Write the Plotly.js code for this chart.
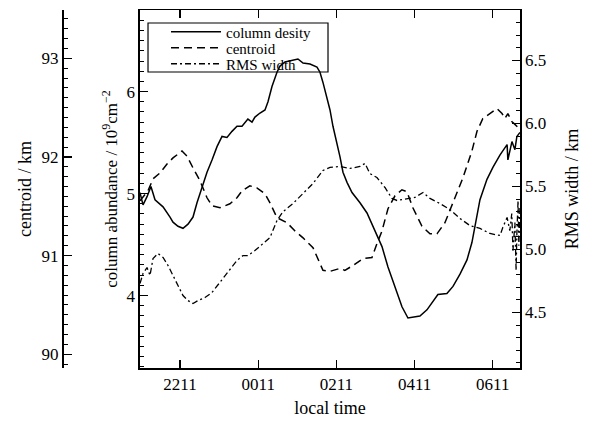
<!DOCTYPE html>
<html>
<head>
<meta charset="utf-8">
<script src="https://cdn.plot.ly/plotly-3.0.1.min.js"></script>
<style>html,body{margin:0;padding:0;background:#fff;}#chart{width:593px;height:428px;}</style>
</head>
<body>
<div id="chart"></div>
<script>
// time in decimal hours (values > 24 are after midnight)
const colTime = [21.16,21.237,21.34,21.44,21.544,21.749,21.928,22.004,22.132,22.26,22.388,22.516,22.618,22.746,22.874,23.002,23.13,23.258,23.385,23.513,23.641,23.769,23.846,23.92,24.025,24.10,24.23,24.357,24.434,24.536,24.664,24.741,24.869,25.073,25.2,25.33,25.508,25.687,25.764,25.84,25.943,26.02,26.096,26.199,26.276,26.352,26.455,26.583,26.787,26.966,27.12,27.247,27.35,27.503,27.682,27.861,28.014,28.142,28.32,28.5,28.654,28.78,29.01,29.166,29.345,29.524,29.65,29.73,29.856,30.035,30.19,30.37,30.55,30.57,30.674,30.75,30.80,30.88];
const colValue = [5.01,4.89,4.97,5.07,4.94,4.87,4.77,4.72,4.68,4.66,4.70,4.77,4.91,5.07,5.21,5.33,5.46,5.56,5.55,5.61,5.66,5.66,5.70,5.73,5.70,5.75,5.79,5.82,5.90,6.05,6.19,6.25,6.29,6.31,6.32,6.28,6.27,6.24,6.19,6.09,5.95,5.82,5.66,5.50,5.36,5.21,5.11,5.01,4.91,4.81,4.68,4.58,4.48,4.28,4.09,3.89,3.78,3.79,3.80,3.86,3.94,4.01,4.02,4.09,4.21,4.35,4.52,4.68,4.94,5.14,5.26,5.38,5.48,5.33,5.51,5.43,5.56,5.60];

const cenTime = [21.16,21.365,21.493,21.672,21.851,22.004,22.234,22.36,22.516,22.695,22.874,23.002,23.206,23.46,23.64,23.77,23.97,24.15,24.357,24.485,24.664,24.92,25.125,25.33,25.585,25.71,25.84,26.02,26.276,26.40,26.61,26.864,27.094,27.22,27.35,27.503,27.682,27.86,27.99,28.14,28.37,28.577,28.756,28.96,29.166,29.42,29.65,29.78,29.93,30.11,30.29,30.42,30.495,30.57,30.67,30.75,30.88];
const cenValue = [91.556,91.657,91.778,91.838,91.929,91.99,92.06,92.01,91.889,91.758,91.586,91.505,91.485,91.525,91.586,91.657,91.707,91.687,91.626,91.535,91.384,91.333,91.25,91.18,91.08,90.97,90.85,90.84,90.87,90.85,90.90,90.97,90.98,91.12,91.25,91.475,91.606,91.667,91.646,91.485,91.30,91.22,91.22,91.333,91.535,91.788,92.06,92.26,92.39,92.44,92.49,92.44,92.39,92.44,92.36,92.33,92.28];

const rmsTime = [21.16,21.237,21.34,21.416,21.493,21.62,21.75,21.877,22.004,22.132,22.26,22.388,22.516,22.644,22.823,23.002,23.206,23.41,23.64,23.795,23.92,24.10,24.306,24.485,24.664,24.817,25.073,25.33,25.585,25.84,26.02,26.276,26.53,26.787,26.915,27.04,27.22,27.426,27.605,27.733,27.99,28.19,28.40,28.577,28.83,29.09,29.345,29.60,29.856,30.11,30.37,30.44,30.55,30.62,30.67,30.70,30.75,30.78,30.80,30.83,30.85,30.88];
const rmsValue = [4.73,4.81,4.857,4.794,4.929,4.968,4.937,4.873,4.794,4.714,4.635,4.595,4.571,4.595,4.619,4.659,4.738,4.817,4.913,4.952,4.952,4.992,5.048,5.095,5.23,5.30,5.365,5.444,5.524,5.627,5.651,5.659,5.643,5.659,5.683,5.603,5.571,5.492,5.405,5.389,5.405,5.413,5.452,5.405,5.365,5.317,5.246,5.19,5.167,5.127,5.111,5.175,5.254,5.15,5.286,4.99,5.214,4.833,5.127,5.389,5.03,5.35];

const tickHours = [22.1833,24.1833,26.1833,28.1833,30.1833];
const tickLabels = ['2211','0011','0211','0411','0611'];
const seriesNames = ['column desity','centroid','RMS width'];

const FONT = "'Liberation Serif', 'Times New Roman', Times, serif";

const traces = [
  {x: colTime, y: colValue, name: seriesNames[0], type:'scatter', mode:'lines',
   line:{color:'#000', width:1.5, dash:'solid'}, yaxis:'y', legend:'legend'},
  {x: cenTime, y: cenValue, name: seriesNames[1], type:'scatter', mode:'lines',
   line:{color:'#000', width:1.5, dash:'8px,5px'}, yaxis:'y2', legend:'legend2'},
  {x: rmsTime, y: rmsValue, name: seriesNames[2], type:'scatter', mode:'lines',
   line:{color:'#000', width:1.3, dash:'6px,3px,2px,3px'}, yaxis:'y3', legend:'legend3'}
];

const axisCommon = {
  showline:true, linecolor:'#000', linewidth:1.5, showgrid:false, zeroline:false,
  ticks:'inside', ticklen:8, tickwidth:1.2, tickcolor:'#000',
  tickfont:{family:FONT, size:17, color:'#000'}
};

function legendAt(y){
  return {x:0.2271, y:y, xanchor:'left', yanchor:'middle',
    borderwidth:0, bgcolor:'rgba(0,0,0,0)',
    font:{family:FONT, size:15, color:'#000'}, itemwidth:50};
}

const layout = {
  width:593, height:428,
  margin:{l:62, r:73, t:10, b:60},
  paper_bgcolor:'#fff', plot_bgcolor:'#fff',
  font:{family:FONT, color:'#000'},
  showlegend:true,
  legend: legendAt(0.9385),
  legend2: legendAt(0.8939),
  legend3: legendAt(0.8492),
  shapes:[{type:'rect', xref:'paper', yref:'paper', x0:0.1878, x1:0.5808, y0:0.8268, y1:0.9637,
    line:{color:'#000', width:1.2}, fillcolor:'rgba(0,0,0,0)', layer:'above'}],
  xaxis: Object.assign({}, axisCommon, {
    domain:[0.1703, 1], range:[21.16, 30.88], mirror:'ticks',
    tickmode:'array', tickvals:tickHours, ticktext:tickLabels,
    title:{text:'local time', font:{family:FONT, size:18, color:'#000'}, standoff:8}
  }),
  yaxis: Object.assign({}, axisCommon, {
    range:[3.29, 6.80], anchor:'x', side:'left',
    tickvals:[4,5,6],
    minor:{dtick:0.1, ticks:'inside', ticklen:4, tickcolor:'#000', tickwidth:1},
    title:{text:'column abundance / 10<sup>9</sup>cm<sup>−2</sup>', font:{family:FONT, size:17, color:'#000'}, standoff:4}
  }),
  yaxis2: Object.assign({}, axisCommon, {
    range:[89.86, 93.49], overlaying:'y', anchor:'free', position:0, side:'left',
    tickvals:[90,91,92,93],
    minor:{dtick:0.1, ticks:'inside', ticklen:4, tickcolor:'#000', tickwidth:1},
    title:{text:'centroid / km', font:{family:FONT, size:18, color:'#000'}, standoff:4}
  }),
  yaxis3: Object.assign({}, axisCommon, {
    range:[4.06, 6.9], overlaying:'y', anchor:'x', side:'right',
    tickvals:[4.5,5.0,5.5,6.0,6.5], ticktext:['4.5','5.0','5.5','6.0','6.5'],
    minor:{dtick:0.1, ticks:'inside', ticklen:4, tickcolor:'#000', tickwidth:1},
    title:{text:'RMS width / km', font:{family:FONT, size:18, color:'#000'}, standoff:20}
  })
};

Plotly.newPlot('chart', traces, layout, {displayModeBar:false, staticPlot:true});
</script>
</body>
</html>
